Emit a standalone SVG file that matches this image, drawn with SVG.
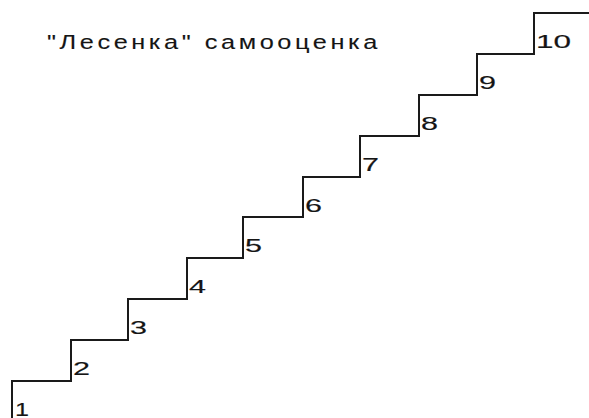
<svg xmlns="http://www.w3.org/2000/svg" width="589" height="418" viewBox="0 0 589 418">
<style>
.st{fill:none;stroke:#1a1a1a;stroke-width:2;stroke-linecap:square;stroke-linejoin:miter}
.lb{font-family:"Liberation Sans",Arial,sans-serif;font-size:18px;fill:#151515;stroke:#151515;stroke-width:0.15}
.tt{font-family:"Liberation Sans",Arial,sans-serif;font-size:19.5px;fill:#151515;stroke:#151515;stroke-width:0.1}
</style>
<rect width="589" height="418" fill="#fff"/>
<text class="tt" transform="scale(1.3,1)" x="36.2" y="49" textLength="254" lengthAdjust="spacing">"Лесенка" самооценка</text>
<g id="steps">
<g id="step1"><path class="st" d="M12,419 V381 H71"/><text class="lb" x="15" y="416" textLength="14" lengthAdjust="spacingAndGlyphs">1</text></g>
<g id="step2"><path class="st" d="M71,381 V340 H128"/><text class="lb" x="73" y="375" textLength="17" lengthAdjust="spacingAndGlyphs">2</text></g>
<g id="step3"><path class="st" d="M128,340 V299 H187"/><text class="lb" x="130" y="334" textLength="17" lengthAdjust="spacingAndGlyphs">3</text></g>
<g id="step4"><path class="st" d="M187,299 V258 H243"/><text class="lb" x="189" y="293" textLength="17" lengthAdjust="spacingAndGlyphs">4</text></g>
<g id="step5"><path class="st" d="M243,258 V217 H303"/><text class="lb" x="245" y="252" textLength="17" lengthAdjust="spacingAndGlyphs">5</text></g>
<g id="step6"><path class="st" d="M303,217 V177 H360"/><text class="lb" x="305" y="212" textLength="17" lengthAdjust="spacingAndGlyphs">6</text></g>
<g id="step7"><path class="st" d="M360,177 V136 H419"/><text class="lb" x="362" y="171" textLength="17" lengthAdjust="spacingAndGlyphs">7</text></g>
<g id="step8"><path class="st" d="M419,136 V95 H477"/><text class="lb" x="421" y="130" textLength="17" lengthAdjust="spacingAndGlyphs">8</text></g>
<g id="step9"><path class="st" d="M477,95 V54 H534"/><text class="lb" x="479" y="89" textLength="17" lengthAdjust="spacingAndGlyphs">9</text></g>
<g id="step10"><path class="st" d="M534,54 V13 H590"/><text class="lb" x="536" y="48" textLength="35" lengthAdjust="spacingAndGlyphs">10</text></g>
</g>
</svg>
